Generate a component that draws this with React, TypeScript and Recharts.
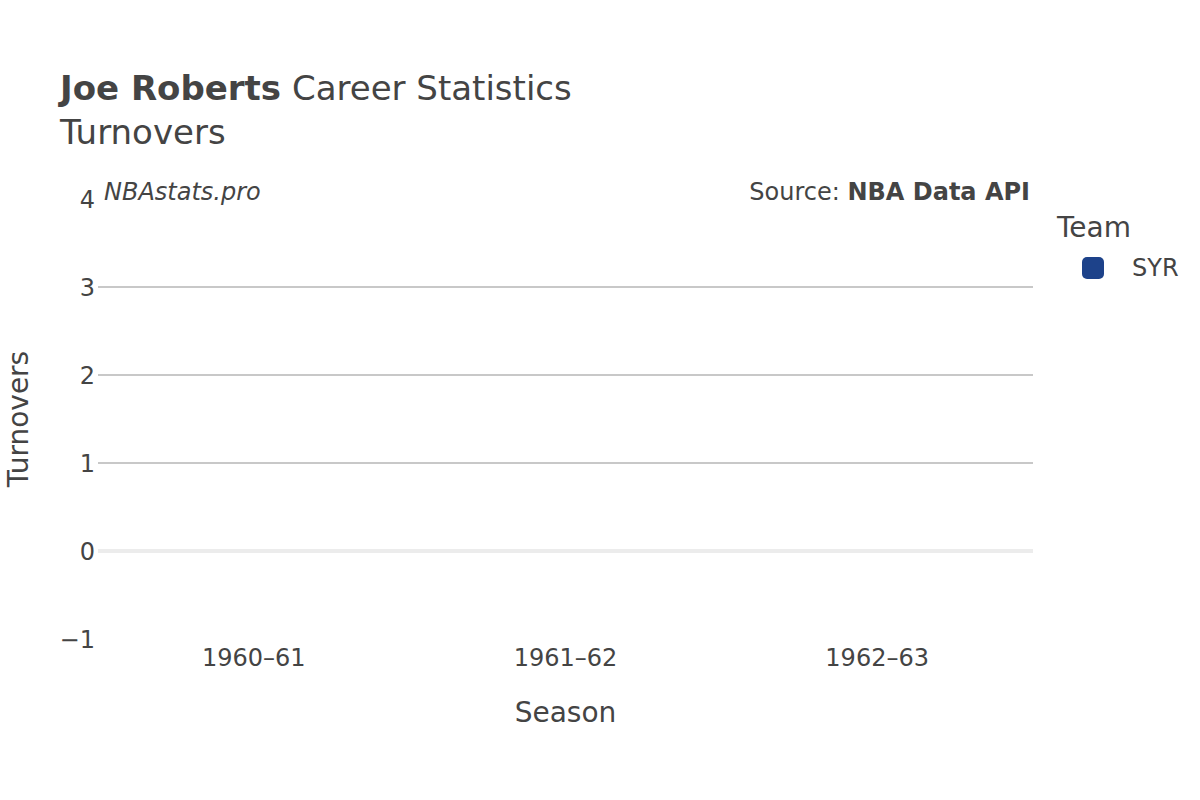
import * as React from "react";
import { Bar, BarChart, ReferenceLine, XAxis, YAxis, Label } from "recharts";

const seasons = ["1960–61", "1961–62", "1962–63"];
const turnovers = [0, 0, 0];
const yTicks = [-1, 0, 1, 2, 3, 4];
const gridValues = [1, 2, 3];
const teamName = "SYR";
const teamColor = "#1d428a";

const data = seasons.map((season, i) => ({ season, turnovers: turnovers[i] }));

const font = "'DejaVu Sans', sans-serif";
const ink = "#444";

const TeamLegend = () => (
  <div
    style={{
      position: "absolute",
      top: 210,
      left: 1057,
      fontFamily: font,
      color: ink,
    }}
  >
    <div style={{ fontSize: 28, lineHeight: "36px" }}>Team</div>
    <div style={{ display: "flex", alignItems: "center", marginLeft: 25, marginTop: 8 }}>
      <span
        style={{
          width: 22,
          height: 22,
          borderRadius: 5,
          background: teamColor,
          display: "inline-block",
        }}
      />
      <span style={{ fontSize: 24, marginLeft: 28 }}>{teamName}</span>
    </div>
  </div>
);

export default function App() {
  return (
    <div style={{ position: "absolute", left: 0, top: 0, width: 1200, height: 800, background: "#fff" }}>
      <BarChart
        width={1200}
        height={800}
        data={data}
        margin={{ top: 199, right: 167, left: 58, bottom: 131 }}
      >
        {gridValues.map((v) => (
          <ReferenceLine key={v} y={v} stroke="#c8c8c8" strokeWidth={2} />
        ))}
        <ReferenceLine y={0} stroke="#ececec" strokeWidth={4} />
        <XAxis
          dataKey="season"
          height={30}
          axisLine={false}
          tickLine={false}
          tickSize={0}
          tickMargin={10}
          tick={{ fontSize: 24, fill: ink, fontFamily: font }}
        >
          <Label
            value="Season"
            position="insideBottom"
            offset={-53}
            style={{ fontSize: 28, fill: ink, fontFamily: font }}
          />
        </XAxis>
        <YAxis
          width={40}
          domain={[-1, 4]}
          ticks={yTicks}
          type="number"
          allowDataOverflow
          axisLine={false}
          tickLine={false}
          tickSize={0}
          tickMargin={3}
          tickFormatter={(v: number) => (v < 0 ? `−${Math.abs(v)}` : `${v}`)}
          tick={{ fontSize: 24, fill: ink, fontFamily: font }}
        >
          <Label
            value="Turnovers"
            angle={-90}
            position="insideLeft"
            offset={-40}
            style={{ fontSize: 28, fill: ink, fontFamily: font, textAnchor: "middle" }}
          />
        </YAxis>
        <Bar dataKey="turnovers" name={teamName} fill={teamColor} isAnimationActive={false} />
      </BarChart>
      <TeamLegend />
      <svg
        width={1200}
        height={800}
        style={{ position: "absolute", left: 0, top: 0, pointerEvents: "none" }}
      >
        <text x={60} y={100} fontFamily={font} fontSize={34} fill={ink}>
          <tspan fontWeight="bold">Joe Roberts</tspan>
          <tspan> Career Statistics</tspan>
        </text>
        <text x={60} y={144} fontFamily={font} fontSize={34} fill={ink}>
          Turnovers
        </text>
        <text x={104} y={200} fontFamily={font} fontSize={24} fontStyle="italic" fill={ink}>
          NBAstats.pro
        </text>
        <text x={1030} y={200} fontFamily={font} fontSize={24} fill={ink} textAnchor="end">
          <tspan>Source: </tspan>
          <tspan fontWeight="bold">NBA Data API</tspan>
        </text>
      </svg>
    </div>
  );
}
